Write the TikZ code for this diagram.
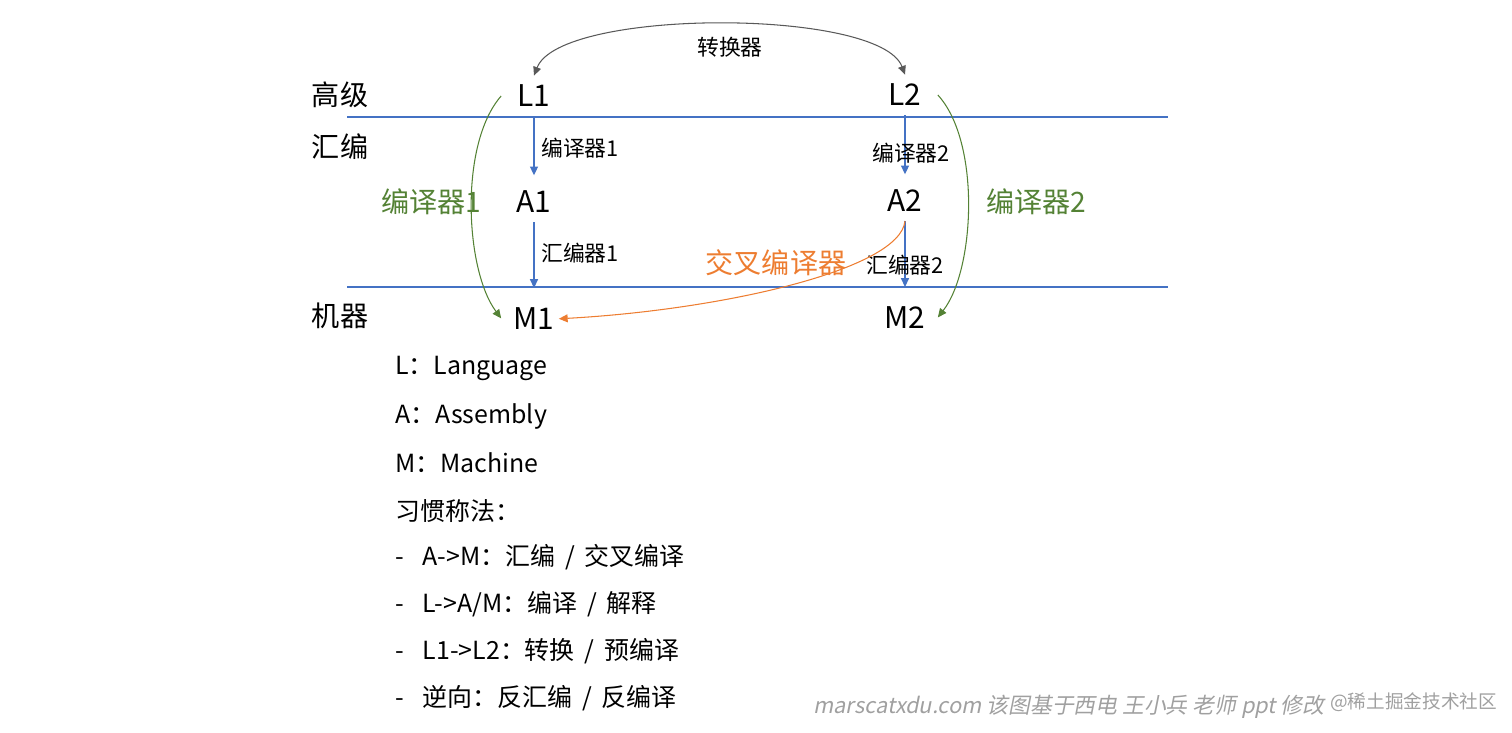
\documentclass[tikz,border=0pt]{standalone}
\usepackage{fontspec}
\setmainfont{Noto Sans CJK SC}
\newfontfamily\wmfont[FakeSlant=0.2]{Noto Sans CJK SC}
\usepackage{xcolor}
\definecolor{cvblue}{HTML}{4472C4}
\definecolor{cvgreen}{HTML}{548235}
\definecolor{cvorange}{HTML}{ED7D31}
\definecolor{cvgray}{HTML}{808080}
\definecolor{cvtip}{HTML}{595959}
\definecolor{cvmark}{HTML}{A0A0A0}
\usetikzlibrary{arrows.meta, positioning}

\begin{document}
\begin{tikzpicture}[
  x=0.02cm, y=-0.02cm,
  node distance=1.3cm,
  lvl/.style={font=\fontsize{16}{19}\selectfont, inner sep=0pt},
  sym/.style={font=\fontsize{17}{20}\selectfont, inner sep=0pt,
              minimum width=1.3cm, minimum height=0.8cm},
  tool/.style={font=\fontsize{12.4}{15}\selectfont, inner sep=0pt},
  big/.style={font=\fontsize{16}{19}\selectfont, inner sep=0pt},
  note/.style={font=\fontsize{14.2}{17}\selectfont, anchor=west, inner sep=0pt},
  wmark/.style={font=\fontsize{12.4}{15}\selectfont, text=cvmark,
                anchor=west, inner sep=0pt},
  band/.style={draw=cvblue, line width=0.8pt},
  barr/.style={-{Triangle[length=5pt, width=4.5pt]}, line width=0.8pt,
               draw=cvblue, fill=cvblue},
  carr/.style={-{Triangle[length=5pt, width=4.5pt]}, line width=0.6pt}
]
  \useasboundingbox (0,0) rectangle (1512,733);

  \coordinate (topw) at (347,117);
  \coordinate (tope) at (1168,117);
  \coordinate (botw) at (347,287);
  \coordinate (bote) at (1168,287);
  \draw[band] (topw) -- (tope);
  \draw[band] (botw) -- (bote);

  \node[lvl] (high) at (340,95)  {高级};
  \node[lvl] (asm)  at (340,147) {汇编};
  \node[lvl] (mach) at (340,316) {机器};

  \node[sym] (L1) at (534,96) {L1};
  \node[sym, below=1.3cm of L1]  (A1) {A1};
  \node[sym, below=1.52cm of A1] (M1) {M1};

  \node[sym] (L2) at (905,95) {L2};
  \node[sym, below=1.3cm of L2]  (A2) {A2};
  \node[sym, below=1.52cm of A2] (M2) {M2};

  \draw[barr, shorten >=0.12cm] (L1) -- (A1);
  \draw[barr, shorten >=0.2cm]  (A1) -- (M1);
  \draw[barr, shorten >=0.12cm] (L2) -- (A2);
  \draw[barr, shorten >=0.2cm]  (A2) -- (M2);

  \node[tool, anchor=west] (c1) at (541,148) {编译器1};
  \node[tool, anchor=west] (s1) at (541,253) {汇编器1};
  \node[tool] (c2) at (911,153) {编译器2};
  \node[tool] (s2) at (905,265) {汇编器2};

  \draw[carr, draw=cvgray, {Triangle[length=5pt, width=4.5pt]}-{Triangle[length=5pt, width=4.5pt]},
        color=cvtip]
    (L1.north) .. controls (560,8) and (880,8) .. (L2.north);
  \node[tool] (conv) at (730,47) {转换器};

  \draw[carr, cvgreen]
    (L1.west) .. controls (459,144) and (465,270) .. (M1.west);
  \draw[carr, cvgreen]
    (L2.east) .. controls (981,142) and (975,270) .. (M2.east);
  \node[big, text=cvgreen] (g1) at (431,202)  {编译器1};
  \node[big, text=cvgreen] (g2) at (1036,202) {编译器2};

  \draw[carr, cvorange, shorten >=-0.16cm]
    (A2.south) .. controls (900,270) and (720,310) .. (M1.east);
  \node[big, text=cvorange] (cross) at (776,263) {交叉编译器};

  \node[note] (n1) at (395,368) {L：Language};
  \node[note] (n2) at (395,416) {A：Assembly};
  \node[note] (n3) at (395,463) {M：Machine};
  \node[note] (n4) at (395,511) {习惯称法：};
  \node[note] (n5) at (395,557) {-\hspace{0.75em}A->M：汇编\ \,/\ \,交叉编译};
  \node[note] (n6) at (395,604) {-\hspace{0.75em}L->A/M：编译\ \,/\ \,解释};
  \node[note] (n7) at (395,651) {-\hspace{0.75em}L1->L2：转换\ \,/\ \,预编译};
  \node[note] (n8) at (395,698) {-\hspace{0.75em}逆向：反汇编\ \,/\ \,反编译};

  \node[wmark] (wm) at (813,707)
    {\wmfont marscatxdu.com 该图基于西电 王小兵 老师 ppt 修改};
  \node[wmark, font=\fontsize{10.6}{13}\selectfont] (jj) at (1330,702)
    {@稀土掘金技术社区};
\end{tikzpicture}
\end{document}
